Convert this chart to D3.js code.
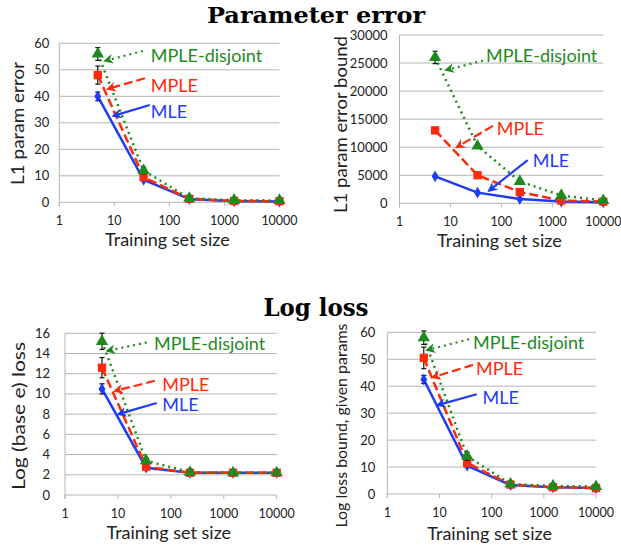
<!DOCTYPE html>
<html>
<head>
<meta charset="utf-8">
<script src="https://cdn.jsdelivr.net/npm/d3@7"></script>
<style>
  body { margin: 0; background: #fff; }
  text { font-family: Lato, "Open Sans", sans-serif; }
</style>
</head>
<body>
<svg id="chart" width="621" height="545"></svg>
<script>
// training set sizes (x) and decade ticks
const sizes = [5, 34, 230, 1500, 10000];
const xTicks = [1, 10, 100, 1000, 10000];
const seriesNames = ["MLE", "MPLE", "MPLE-disjoint"];

// parameter error
const l1ErrMLE = [40, 8.5, 1.2, 0.4, 0.3];
const l1ErrMPLE = [48, 9.5, 1.3, 0.5, 0.4];
const l1ErrDisj = [56, 12, 1.5, 0.8, 0.7];
const l1ErrMLEBar = [1.6, 0, 0, 0, 0];
const l1ErrMPLEBar = [3.4, 0, 0, 0, 0];
const l1ErrDisjBar = [2.4, 1.2, 0, 0, 0];

const boundMLE = [4800, 1900, 750, 300, 200];
const boundMPLE = [13000, 5000, 2000, 500, 300];
const boundDisj = [26000, 10200, 3900, 1400, 500];
const boundDisjBar = [1100, 0, 0, 0, 0];

// log loss
const lossMLE = [10.5, 2.7, 2.2, 2.2, 2.2];
const lossMPLE = [12.6, 2.8, 2.2, 2.2, 2.2];
const lossDisj = [15.2, 3.4, 2.25, 2.2, 2.2];
const lossMLEBar = [0.5, 0.2, 0, 0, 0];
const lossMPLEBar = [1.0, 0.2, 0, 0, 0];
const lossDisjBar = [0.8, 0.3, 0, 0, 0];

const lbMLE = [42.5, 10.5, 3.3, 2.5, 2.2];
const lbMPLE = [50.5, 11.5, 3.5, 2.5, 2.2];
const lbDisj = [58, 14, 3.7, 3.0, 2.8];
const lbMLEBar = [1.5, 0.5, 0, 0, 0];
const lbMPLEBar = [4, 1, 0, 0, 0];
const lbDisjBar = [2.5, 1.5, 0, 0, 0];

// y ticks
const yTicks1 = [0, 10, 20, 30, 40, 50, 60];
const yTicks2 = [0, 5000, 10000, 15000, 20000, 25000, 30000];
const yTicks3 = [0, 2, 4, 6, 8, 10, 12, 14, 16];
const yTicks4 = [0, 10, 20, 30, 40, 50, 60];

// label annotations in data units: [text pos, arrow start, arrow tip]
const notes1 = [[[46, 31.9], [44, 36.7], [9.6, 32.6]], [[46, 41.7], [36, 46.8], [7.6, 42.8]], [[46, 52.8], [33, 57.1], [6.8, 53.4]]];
const notes2 = [[[411, 6500], [328, 7700], [57, 2250]], [[81, 12200], [68, 13800], [13.3, 10000]], [[50, 25240], [43.5, 25420], [8.2, 23760]]];
const notes3 = [[[69, 8.3], [54, 9.1], [10.2, 8.0]], [[69, 10.3], [50, 11.3], [8.8, 10.3]], [[48, 14.3], [35, 15.1], [6.3, 14.26]]];
const notes4 = [[[67, 33.3], [52, 37], [9.2, 33]], [[50, 44.2], [44, 47.9], [7.4, 43.3]], [[44, 53.7], [37, 57.4], [5.8, 53.4]]];

const colors = ["#1f3cf5", "#ff2a0a", "#1e8a1e"];
const dashes = [null, "9,4", "2,4"];

const panels = [
  { x: [59.3, 279.5], y: [202.3, 43.3], max: 60, ticks: yTicks1, gap: 10,
    series: [l1ErrMLE, l1ErrMPLE, l1ErrDisj], bars: [l1ErrMLEBar, l1ErrMPLEBar, l1ErrDisjBar],
    notes: notes1, title: "L1 param error", titleX: 18, titleY: 123.5, titleLen: 123, titleSize: 18,
    xlab: 225, xtitle: 246 },
  { x: [399.5, 603.3], y: [203.3, 35], max: 30000, ticks: yTicks2, gap: 12,
    series: [boundMLE, boundMPLE, boundDisj], bars: [null, null, boundDisjBar],
    notes: notes2, title: "L1 param error bound", titleX: 341, titleY: 124.5, titleLen: 177, titleSize: 17.5,
    xlab: 225.5, xtitle: 247 },
  { x: [65, 276.7], y: [495, 333.3], max: 16, ticks: yTicks3, gap: 15,
    series: [lossMLE, lossMPLE, lossDisj], bars: [lossMLEBar, lossMPLEBar, lossDisjBar],
    notes: notes3, title: "Log (base e) loss", titleX: 19, titleY: 416, titleLen: 148, titleSize: 18,
    xlab: 518, xtitle: 539 },
  { x: [387.3, 596], y: [494, 332.3], max: 60, ticks: yTicks4, gap: 12,
    series: [lbMLE, lbMPLE, lbDisj], bars: [lbMLEBar, lbMPLEBar, lbDisjBar],
    notes: notes4, title: "Log loss bound, given params", titleX: 342, titleY: 425.5, titleLen: 204, titleSize: 15.5,
    xlab: 516.5, xtitle: 540 }
];

const svg = d3.select("#chart");

const defs = svg.append("defs");
colors.forEach((c, i) => {
  defs.append("marker")
    .attr("id", "head" + i)
    .attr("viewBox", "0 0 10 10")
    .attr("refX", 8).attr("refY", 5)
    .attr("markerWidth", 4.5).attr("markerHeight", 4.5)
    .attr("markerUnits", "strokeWidth")
    .attr("orient", "auto")
    .append("path")
    .attr("d", "M0,0 L10,5 L0,10 L3,5 Z")
    .attr("fill", c);
});

svg.append("text")
  .attr("x", 316).attr("y", 23)
  .attr("text-anchor", "middle")
  .style("font-family", "'DejaVu Serif', 'Liberation Serif', serif")
  .style("font-weight", "bold").style("font-size", "23px")
  .attr("textLength", 218).attr("lengthAdjust", "spacingAndGlyphs")
  .text("Parameter error");

svg.append("text")
  .attr("x", 316).attr("y", 316)
  .attr("text-anchor", "middle")
  .style("font-family", "'DejaVu Serif', 'Liberation Serif', serif")
  .style("font-weight", "bold").style("font-size", "24px")
  .attr("textLength", 105).attr("lengthAdjust", "spacingAndGlyphs")
  .text("Log loss");

const symbols = [d3.symbolDiamond, d3.symbolSquare, d3.symbolTriangle];
const symSize = [40, 70, 65];

panels.forEach((p) => {
  const x = d3.scaleLog().domain([1, 10000]).range(p.x);
  const y = d3.scaleLinear().domain([0, p.max]).range(p.y);
  const g = svg.append("g");

  // gridlines
  g.selectAll(".grid")
    .data(p.ticks)
    .join("line")
    .attr("x1", p.x[0]).attr("x2", p.x[1])
    .attr("y1", (d) => y(d)).attr("y2", (d) => y(d))
    .attr("stroke", "#b4b4b4").attr("stroke-width", 1);

  // left axis line and x tick marks
  g.append("line")
    .attr("x1", p.x[0]).attr("x2", p.x[0])
    .attr("y1", p.y[1]).attr("y2", p.y[0] + 4)
    .attr("stroke", "#b4b4b4");
  g.selectAll(".xt")
    .data(xTicks)
    .join("line")
    .attr("x1", (d) => x(d)).attr("x2", (d) => x(d))
    .attr("y1", p.y[0]).attr("y2", p.y[0] + 4)
    .attr("stroke", "#b4b4b4");

  // tick labels
  g.selectAll(".yl")
    .data(p.ticks)
    .join("text")
    .attr("x", p.x[0] - p.gap)
    .attr("y", (d) => y(d) + 4.5)
    .attr("text-anchor", "end")
    .style("font-size", "13px").attr("fill", "#222")
    .text((d) => d);
  g.selectAll(".xl")
    .data(xTicks)
    .join("text")
    .attr("x", (d) => x(d))
    .attr("y", p.xlab)
    .attr("text-anchor", "middle")
    .style("font-size", "12.5px").attr("fill", "#222")
    .text((d) => d);

  g.append("text")
    .attr("x", (p.x[0] + p.x[1]) / 2 - 2)
    .attr("y", p.xtitle)
    .attr("text-anchor", "middle")
    .style("font-size", "18px").attr("fill", "#222")
    .text("Training set size");

  g.append("text")
    .attr("transform", `translate(${p.titleX},${p.titleY}) rotate(-90)`)
    .attr("text-anchor", "middle")
    .attr("dy", "0.35em")
    .attr("textLength", p.titleLen).attr("lengthAdjust", "spacingAndGlyphs")
    .style("font-size", p.titleSize + "px").attr("fill", "#222")
    .text(p.title);

  const line = d3.line().x((d, i) => x(sizes[i])).y((d) => y(d));

  p.series.forEach((vals, si) => {
    g.append("path")
      .attr("d", line(vals))
      .attr("fill", "none")
      .attr("stroke", colors[si])
      .attr("stroke-width", 2.5)
      .attr("stroke-dasharray", dashes[si]);
  });

  p.series.forEach((vals, si) => {
    const bars = p.bars[si];
    if (bars) {
      vals.forEach((v, i) => {
        if (!bars[i]) return;
        const bx = x(sizes[i]);
        const eb = g.append("g").attr("stroke", "#111").attr("stroke-width", 1.2);
        eb.append("line").attr("x1", bx).attr("x2", bx)
          .attr("y1", y(v - bars[i])).attr("y2", y(v + bars[i]));
        eb.append("line").attr("x1", bx - 2.5).attr("x2", bx + 2.5)
          .attr("y1", y(v - bars[i])).attr("y2", y(v - bars[i]));
        eb.append("line").attr("x1", bx - 2.5).attr("x2", bx + 2.5)
          .attr("y1", y(v + bars[i])).attr("y2", y(v + bars[i]));
      });
    }
    g.selectAll(null)
      .data(vals)
      .join("path")
      .attr("transform", (d, i) => `translate(${x(sizes[i])},${y(d)})`)
      .attr("d", d3.symbol().type(symbols[si]).size(symSize[si]))
      .attr("fill", colors[si]);
  });

  // annotations
  p.notes.forEach((n, si) => {
    const [tp, from, to] = n;
    g.append("line")
      .attr("x1", x(from[0])).attr("y1", y(from[1]))
      .attr("x2", x(to[0])).attr("y2", y(to[1]))
      .attr("stroke", colors[si])
      .attr("stroke-width", 2.2)
      .attr("stroke-dasharray", dashes[si])
      .attr("marker-end", `url(#head${si})`);
    g.append("text")
      .attr("x", x(tp[0])).attr("y", y(tp[1]))
      .style("font-size", "18px")
      .attr("fill", colors[si])
      .text(seriesNames[si]);
  });
});
</script>
</body>
</html>
